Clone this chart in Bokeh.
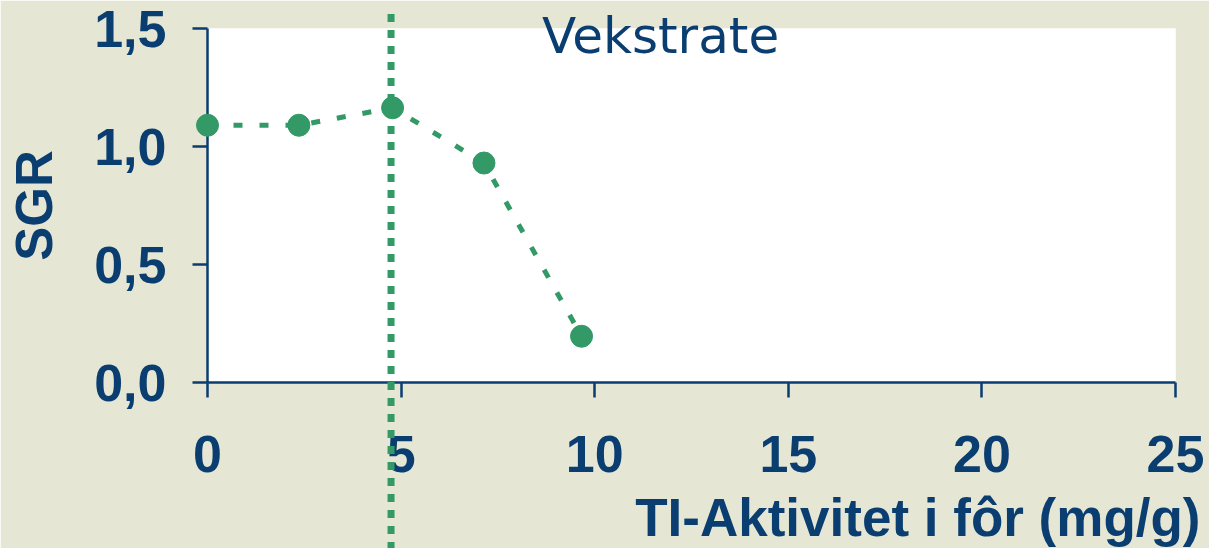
from bokeh.plotting import figure
from bokeh.models import Range1d, FixedTicker
from bokeh.core.properties import value
from bokeh.embed import file_html
from bokeh.resources import INLINE

# data
ti_activity = [0.0, 2.36, 4.78, 7.14, 9.66]
sgr = [1.09, 1.09, 1.164, 0.93, 0.196]
threshold_x = [4.74]
x_ticks = [0, 5, 10, 15, 20, 25]
y_ticks = [0.0, 0.5, 1.0, 1.5]
y_tick_labels = ["0,0", "0,5", "1,0", "1,5"]
title_text = "Vekstrate"
x_label_text = "TI-Aktivitet i fôr (mg/g)"
y_label_text = "SGR"

BLUE = "#0a3e70"
GREEN = "#339966"
BG = "#e6e6d5"
FONT = "Liberation Sans"

p = figure(width=1209, height=548, output_backend="svg", toolbar_location=None,
           x_range=Range1d(0, 25), y_range=Range1d(0, 1.5),
           min_border_left=207, min_border_right=34, min_border_top=28, min_border_bottom=166)
p.background_fill_color = "white"
p.border_fill_color = BG
p.outline_line_color = None
p.grid.visible = False

for ax in (p.xaxis[0], p.yaxis[0]):
    ax.axis_line_color = BLUE
    ax.axis_line_width = 2.5
    ax.major_tick_line_color = BLUE
    ax.major_tick_line_width = 2.5
    ax.major_tick_in = 0
    ax.major_tick_out = 15
    ax.minor_tick_line_color = None
    ax.major_label_text_color = BLUE
    ax.major_label_text_font = FONT
    ax.major_label_text_font_style = "bold"
    ax.major_label_text_font_size = "52px"
    ax.axis_label_text_font = FONT
    ax.axis_label_text_font_style = "bold"
    ax.axis_label_text_color = BLUE

p.xaxis.ticker = FixedTicker(ticks=x_ticks)
p.yaxis.ticker = FixedTicker(ticks=y_ticks)
p.yaxis.major_label_overrides = {t: l for t, l in zip(y_ticks, y_tick_labels)}
p.xaxis.major_label_standoff = 38
p.yaxis.major_label_standoff = 26

p.yaxis.axis_label = y_label_text
p.yaxis.axis_label_text_font_size = "51px"
p.yaxis.axis_label_standoff = 28

# vertical dotted threshold line extending beyond the frame
y_lo = p.y_range.start - 0.71
y_hi = p.y_range.end + 0.085
p.segment(x0=threshold_x, y0=[y_lo], x1=threshold_x, y1=[y_hi],
          line_color=GREEN, line_width=7, line_dash="8 8", level="overlay")

p.line(ti_activity, sgr, line_color=GREEN, line_width=5, line_dash="9 17", level="overlay")
p.scatter(ti_activity, sgr, size=22, fill_color=GREEN, line_color=GREEN, level="overlay")

# chart title drawn as unclipped text (it rises above the white plot area)
p.text(x=[11.7], y=[1.47], text=[title_text], text_align="center",
       text_baseline="alphabetic", text_font=value("DejaVu Sans"),
       text_font_size="50px", text_color=BLUE, level="overlay")

# x-axis title, right-aligned under the axis
p.text(x=[p.x_range.end], y=[-0.572], x_offset=25, text=[x_label_text], text_align="right",
       text_baseline="alphabetic", text_font=value(FONT), text_font_style="bold",
       text_font_size="53px", text_color=BLUE, level="overlay")

open("out.html", "w").write(file_html(p, INLINE))
